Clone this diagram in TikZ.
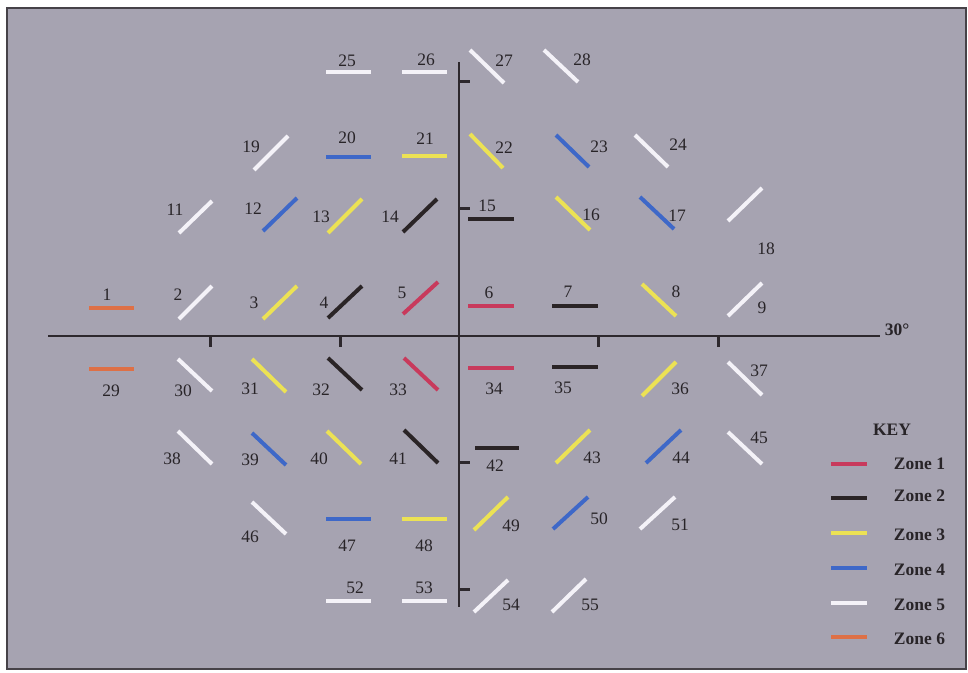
\documentclass[tikz,border=0pt]{standalone}
\usepackage{fontspec}
\setmainfont{Liberation Serif}
\definecolor{bgc}{RGB}{166,163,177}
\definecolor{framec}{RGB}{70,66,72}
\definecolor{axisc}{RGB}{45,40,45}
\definecolor{zone}{RGB}{200,58,92}
\definecolor{ztwo}{RGB}{42,36,38}
\definecolor{zthree}{RGB}{236,226,84}
\definecolor{zfour}{RGB}{62,104,200}
\definecolor{zfive}{RGB}{244,242,248}
\definecolor{zsix}{RGB}{222,112,70}
\definecolor{txtc}{RGB}{40,36,40}
\begin{document}
\begin{tikzpicture}[x=1pt,y=-1pt,
  seg/.style={line width=4pt},
  keyseg/.style={line width=3.6pt},
  lab/.style={inner sep=0pt,text=txtc,font=\fontsize{17.5}{20}\selectfont},
  keylab/.style={inner sep=0pt,text=txtc,font=\fontsize{17.5}{20}\selectfont\bfseries},
  axisline/.style={draw=axisc,line width=1.8pt},
  tickmark/.style={draw=axisc,line width=3pt}]
\useasboundingbox (0,0) rectangle (968,672);
\fill[white] (0,0) rectangle (968,672);
\draw[fill=bgc,draw=framec,line width=1.2pt] (7,8) rectangle (966,669);
% axes
\coordinate (hL) at (48,336);
\coordinate (hR) at (880,336);
\coordinate (vT) at (459,62);
\coordinate (vB) at (459,607);
\draw[axisline] (hL) -- (hR);
\draw[axisline] (vT) -- (vB);
\foreach \tx [count=\i] in {210,340,598,718}{
  \coordinate (ht\i a) at (\tx,336);
  \coordinate (ht\i b) at (\tx,347);
  \draw[tickmark] (ht\i a) -- (ht\i b);
}
\foreach \ty [count=\i] in {81,208,462,589}{
  \coordinate (vt\i a) at (459,\ty);
  \coordinate (vt\i b) at (470,\ty);
  \draw[tickmark] (vt\i a) -- (vt\i b);
}
\node[lab,font=\fontsize{17.5}{20}\selectfont\bfseries] (deg) at (897,330) {30°};
% segments
\foreach \n/\xa/\ya/\xb/\yb/\c in {
 1/89/308/134/308/zsix, 2/179/319/212/286/zfive, 3/263/319/297/286/zthree,
 4/328/318/362/286/ztwo, 5/403/314/438/282/zone, 6/468/306/514/306/zone,
 7/552/306/598/306/ztwo, 8/642/284/676/316/zthree, 9/728/316/762/283/zfive,
 11/179/233/212/201/zfive, 12/263/231/297/198/zfour, 13/328/233/362/199/zthree,
 14/403/232/437/199/ztwo, 15/468/219/514/219/ztwo, 16/556/197/590/230/zthree,
 17/640/197/674/229/zfour, 18/728/221/762/188/zfive, 19/254/170/288/136/zfive,
 20/326/157/371/157/zfour, 21/402/156/447/156/zthree, 22/470/134/503/168/zthree,
 23/556/135/589/167/zfour, 24/635/135/668/167/zfive, 25/326/72/371/72/zfive,
 26/402/72/447/72/zfive, 27/470/50/504/83/zfive, 28/544/50/578/82/zfive,
 29/89/369/134/369/zsix, 30/178/359/212/391/zfive, 31/252/359/286/392/zthree,
 32/328/358/362/390/ztwo, 33/404/358/438/390/zone, 34/468/368/514/368/zone,
 35/552/367/598/367/ztwo, 36/642/396/676/362/zthree, 37/728/362/762/395/zfive,
 38/178/431/212/464/zfive, 39/252/433/286/465/zfour, 40/327/431/361/464/zthree,
 41/404/430/438/463/ztwo, 42/475/448/519/448/ztwo, 43/556/463/590/430/zthree,
 44/646/463/681/430/zfour, 45/728/432/762/464/zfive, 46/252/502/286/534/zfive,
 47/326/519/371/519/zfour, 48/402/519/447/519/zthree, 49/474/530/508/497/zthree,
 50/553/529/588/497/zfour, 51/640/529/675/497/zfive, 52/326/601/371/601/zfive,
 53/402/601/447/601/zfive, 54/474/612/508/580/zfive, 55/552/612/586/579/zfive}{
  \coordinate (s\n a) at (\xa,\ya);
  \coordinate (s\n b) at (\xb,\yb);
  \draw[seg,draw=\c] (s\n a) -- (s\n b);
}
% labels
\foreach \n/\x/\y in {
 1/107/295, 2/178/295, 3/254/303, 4/324/303, 5/402/293, 6/489/293, 7/568/292,
 8/676/292, 9/762/308, 11/175/210, 12/253/209, 13/321/217, 14/390/217,
 15/487/206, 16/591/215, 17/677/216, 18/766/249, 19/251/147, 20/347/138,
 21/425/139, 22/504/148, 23/599/147, 24/678/145, 25/347/61, 26/426/60,
 27/504/61, 28/582/60, 29/111/391, 30/183/391, 31/250/389, 32/321/390,
 33/398/390, 34/494/389, 35/563/388, 36/680/389, 37/759/371, 38/172/459,
 39/250/460, 40/319/459, 41/398/459, 42/495/466, 43/592/458, 44/681/458,
 45/759/438, 46/250/537, 47/347/546, 48/424/546, 49/511/526, 50/599/519,
 51/680/525, 52/355/588, 53/424/588, 54/511/605, 55/590/605}{
  \node[lab] (l\n) at (\x,\y) {\n};
}
% key
\node[keylab] (keyt) at (892,430) {KEY};
\foreach \z/\ly/\ty/\c in {1/464/464/zone, 2/498/496/ztwo, 3/533/535/zthree,
  4/568/570/zfour, 5/603/605/zfive, 6/637/639/zsix}{
  \coordinate (k\z a) at (831,\ly);
  \coordinate (k\z b) at (867,\ly);
  \draw[keyseg,draw=\c] (k\z a) -- (k\z b);
  \node[keylab] (kl\z) at (919.5,\ty) {Zone \z};
}
\end{tikzpicture}
\end{document}
